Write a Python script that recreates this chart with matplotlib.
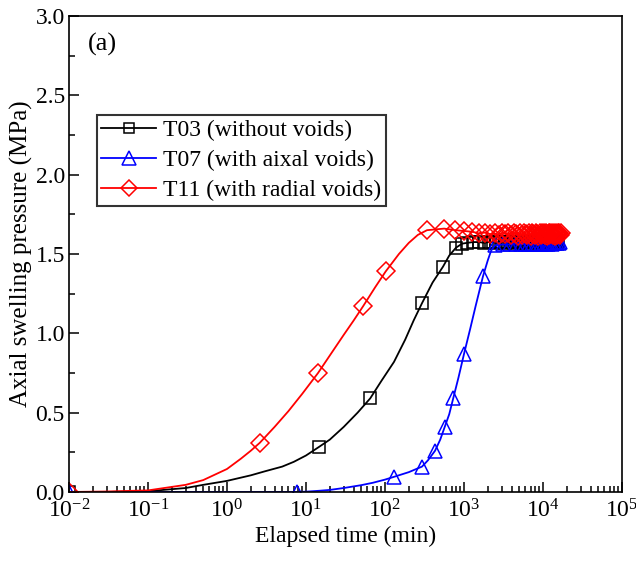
import numpy as np
import matplotlib.pyplot as plt
from matplotlib.lines import Line2D
from matplotlib.ticker import MultipleLocator, LogLocator

plt.rcParams['font.family'] = 'Liberation Serif'
plt.rcParams['mathtext.fontset'] = 'custom'
plt.rcParams['mathtext.rm'] = 'Liberation Serif'
plt.rcParams['mathtext.it'] = 'Liberation Serif:italic'
plt.rcParams['axes.unicode_minus'] = False

# data (time in min, pressure in MPa)
# points that only shape the line, no marker
t03_t = [0.03, 0.1, 0.3, 0.5, 1, 2, 3, 5, 7, 10, 20, 30, 45, 90, 130, 180, 230, 400, 650]
t03_p = [0.0, 0.005, 0.025, 0.045, 0.07, 0.105, 0.13, 0.16, 0.19, 0.23, 0.33, 0.41,
         0.50, 0.70, 0.82, 0.96, 1.08, 1.32, 1.49]
# points carrying markers
t03_mt = [0.01, 14.6, 65, 294, 542, 793, 944, 1090, 1300, 1550, 1800, 2050, 2300, 2550,
          2800, 3050, 3300, 3550, 3800, 4050, 4300, 4550, 4800, 5050, 5300, 5550, 5800,
          6050, 6300, 6550, 6800, 7050, 7300, 7550, 7800, 8050, 8300, 8550, 8800, 9050,
          9300, 9550, 9800, 10050, 10300, 10550, 10800, 11050, 11300, 11550, 11800,
          12050, 12300, 12550, 12800, 13050, 13300, 13550, 13800, 14050, 14300, 14550,
          14800, 15050, 15500]
t03_mp = [0.0, 0.284, 0.59, 1.19, 1.42, 1.54, 1.565, 1.57, 1.575, 1.575, 1.57, 1.575,
          1.575, 1.57, 1.575, 1.575, 1.57, 1.575, 1.575, 1.575, 1.57, 1.575, 1.575,
          1.575, 1.57, 1.575, 1.575, 1.575, 1.57, 1.575, 1.575, 1.58, 1.575, 1.575,
          1.575, 1.57, 1.575, 1.575, 1.58, 1.575, 1.575, 1.575, 1.57, 1.575, 1.575,
          1.58, 1.575, 1.575, 1.575, 1.57, 1.575, 1.575, 1.58, 1.575, 1.575, 1.575,
          1.575, 1.58, 1.575, 1.575, 1.575, 1.58, 1.575, 1.575, 1.58]

t07_t = [0.1, 1, 10, 15, 20, 30, 50, 70, 100, 200, 350, 500, 650, 850, 1200, 1400,
         2000, 2200]
t07_p = [0.0, 0.0, 0.002, 0.008, 0.013, 0.025, 0.043, 0.058, 0.078, 0.125, 0.2, 0.33,
         0.49, 0.72, 1.03, 1.17, 1.46, 1.52]
t07_mt = [0.01, 7.7, 129, 294, 430, 570, 730, 1000, 1740, 2450, 3150, 3850, 4550, 5250,
          5950, 6650, 7350, 8050, 8750, 9450, 10150, 10850, 11550, 12250, 12950, 13650,
          14350, 15050, 15750, 16500]
t07_mp = [0.0, 0.0, 0.095, 0.16, 0.26, 0.41, 0.59, 0.87, 1.36, 1.555, 1.56, 1.56,
          1.565, 1.56, 1.565, 1.565, 1.56, 1.565, 1.565, 1.565, 1.57, 1.565, 1.565,
          1.57, 1.565, 1.57, 1.57, 1.57, 1.57, 1.575]

t11_t = [0.03, 0.1, 0.3, 0.5, 1, 1.5, 2, 4, 6, 9, 20, 30, 40, 75, 150, 200, 260]
t11_p = [0.003, 0.01, 0.045, 0.075, 0.145, 0.21, 0.26, 0.41, 0.51, 0.62, 0.86, 0.99,
         1.08, 1.29, 1.50, 1.57, 1.62]
t11_mt = [0.01, 2.6, 14.2, 52.7, 102, 340, 560, 780, 1000, 1280, 1540, 1850, 2150, 2450,
          2750, 3050, 3350, 3650, 3950, 4250, 4550, 4850, 5150, 5450, 5750, 6050, 6350,
          6650, 6950, 7250, 7550, 7850, 8150, 8450, 8750, 9050, 9350, 9650, 9950,
          10250, 10550, 10850, 11150, 11450, 11750, 12050, 12350, 12650, 12950, 13250,
          13550, 13850, 14150, 14450, 14750, 15050, 15350, 15650, 15950, 16300, 17000]
t11_mp = [0.0, 0.31, 0.75, 1.17, 1.39, 1.65, 1.66, 1.65, 1.645, 1.64, 1.63, 1.635, 1.625,
          1.63, 1.62, 1.635, 1.625, 1.63, 1.62, 1.635, 1.625, 1.615, 1.63, 1.62, 1.635,
          1.625, 1.62, 1.63, 1.615, 1.635, 1.625, 1.62, 1.63, 1.625, 1.615, 1.635, 1.62,
          1.63, 1.625, 1.635, 1.62, 1.63, 1.615, 1.625, 1.635, 1.62, 1.63, 1.625, 1.635,
          1.62, 1.625, 1.63, 1.615, 1.635, 1.625, 1.62, 1.63, 1.625, 1.635, 1.62, 1.63]

labels = ['T03 (without voids)', 'T07 (with aixal voids)', 'T11 (with radial voids)']
colors = ['black', 'blue', 'red']
markers = ['s', '^', 'D']
sizes = [8.5, 10.5, 9]


def merged(lt, lp, mt, mp):
    t = np.concatenate([lt, mt])
    p = np.concatenate([lp, mp])
    o = np.argsort(t)
    return t[o], p[o]


series = [(t03_t, t03_p, t03_mt, t03_mp),
          (t07_t, t07_p, t07_mt, t07_mp),
          (t11_t, t11_p, t11_mt, t11_mp)]

fig = plt.figure(figsize=(6.36, 5.67), dpi=100)
ax = fig.add_axes([0.1085, 0.1323, 0.8695, 0.8395])

handles = []
for (lt, lp, mt, mp), c, m, s, lab in zip(series, colors, markers, sizes, labels):
    t, p = merged(lt, lp, mt, mp)
    ax.plot(t, p, '-', color=c, lw=1.3)
    ax.plot(mt, mp, linestyle='none', marker=m, ms=s, mfc='none', mec=c, mew=1.1)
    handles.append(Line2D([], [], color=c, lw=1.3, marker=m, ms=s - 1, mfc='none',
                          mec=c, mew=1.1, label=lab))

ax.set_xscale('log')
ax.set_xlim(1e-2, 1e5)
ax.set_ylim(0, 3.0)
ax.yaxis.set_major_locator(MultipleLocator(0.5))
ax.yaxis.set_minor_locator(MultipleLocator(0.25))
ax.xaxis.set_major_locator(LogLocator(base=10, numticks=10))
ax.xaxis.set_minor_locator(LogLocator(base=10, subs=np.arange(2, 10), numticks=20))
ax.yaxis.set_major_formatter(plt.FuncFormatter(lambda v, pos: '%.1f' % v))

ax.tick_params(which='both', direction='in', top=False, right=False, labelsize=17)
ax.tick_params(which='major', length=7, width=1.1)
ax.tick_params(which='minor', length=4, width=1.1)
ax.tick_params(axis='x', pad=5)
ax.tick_params(axis='y', pad=3)
for sp in ax.spines.values():
    sp.set_linewidth(1.2)

ax.set_xlabel('Elapsed time (min)', fontsize=17, labelpad=3)
ax.set_ylabel('Axial swelling pressure (MPa)', fontsize=18, labelpad=2)
ax.text(0.035, 0.94, '(a)', transform=ax.transAxes, fontsize=19, va='center')

leg = ax.legend(handles=handles, loc='upper left', bbox_to_anchor=(0.05, 0.792),
                borderaxespad=0, fontsize=17, frameon=True, fancybox=False,
                edgecolor='black', handlelength=2.3, handletextpad=0.3,
                labelspacing=0.36, borderpad=0.2)
leg.get_frame().set_linewidth(1.5)

fig.savefig('out.png', dpi=100)
